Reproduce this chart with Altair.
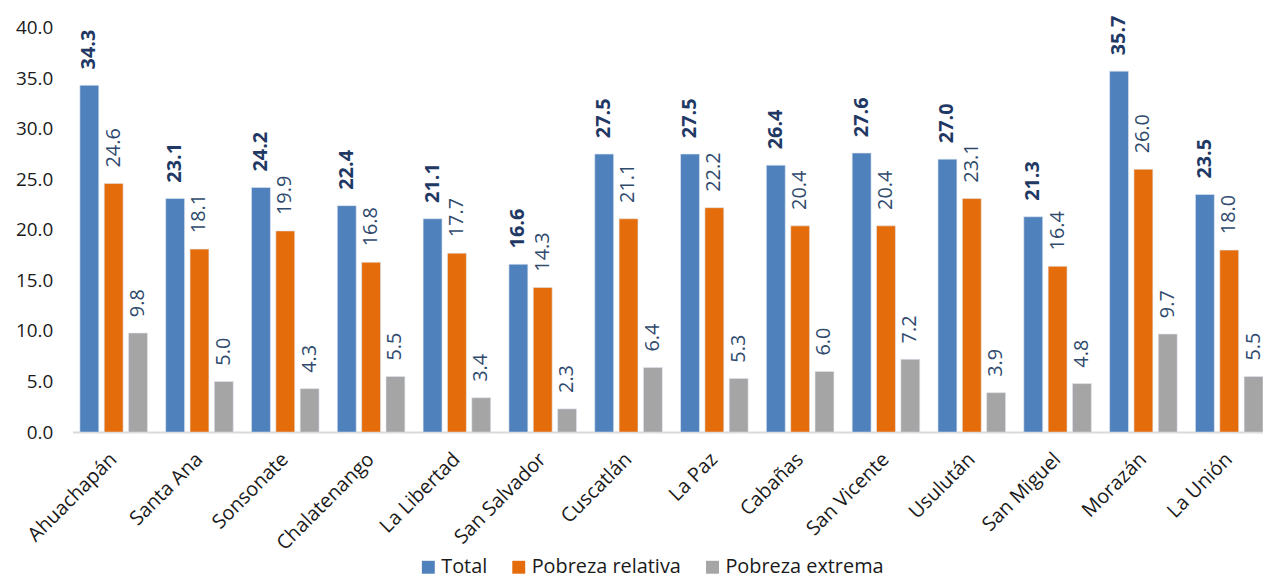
import altair as alt
import pandas as pd

departamentos = ["Ahuachapán", "Santa Ana", "Sonsonate", "Chalatenango", "La Libertad",
                 "San Salvador", "Cuscatlán", "La Paz", "Cabañas", "San Vicente",
                 "Usulután", "San Miguel", "Morazán", "La Unión"]
series = ["Total", "Pobreza relativa", "Pobreza extrema"]
total = [34.3, 23.1, 24.2, 22.4, 21.1, 16.6, 27.5, 27.5, 26.4, 27.6, 27.0, 21.3, 35.7, 23.5]
relativa = [24.6, 18.1, 19.9, 16.8, 17.7, 14.3, 21.1, 22.2, 20.4, 20.4, 23.1, 16.4, 26.0, 18.0]
extrema = [9.8, 5.0, 4.3, 5.5, 3.4, 2.3, 6.4, 5.3, 6.0, 7.2, 3.9, 4.8, 9.7, 5.5]
colores = ["#4f81bd", "#e46c0a", "#a5a5a5"]
y_ticks = [0, 5, 10, 15, 20, 25, 30, 35, 40]

rows = []
for i, d in enumerate(departamentos):
    for s, vals in zip(series, [total, relativa, extrema]):
        rows.append({"dep": d, "serie": s, "valor": vals[i]})
df = pd.DataFrame(rows)

FONT = "Open Sans"

x_enc = alt.X("dep:N", sort=departamentos, title=None,
              scale=alt.Scale(paddingInner=0.2126, paddingOuter=0.0425, align=1,
                              round=False),
              axis=alt.Axis(labelAngle=-45, labelAlign="right", labelBaseline="middle",
                            labelFontSize=20, labelColor="#1a1a1a", labelFont=FONT,
                            ticks=False, domainColor="#d9d9d9", domainWidth=2,
                            labelPadding=24))
xo_enc = alt.XOffset("serie:N", sort=series,
                     scale=alt.Scale(paddingInner=0.224, paddingOuter=0, round=False))
y_enc = alt.Y("valor:Q", title=None,
              scale=alt.Scale(domain=[0, 40], nice=False),
              axis=alt.Axis(values=y_ticks, format=".1f", grid=False, domain=False,
                            ticks=False, labelFontSize=19, labelColor="#1a1a1a",
                            labelFont=FONT, labelPadding=20))

base = alt.Chart(df).encode(x=x_enc, xOffset=xo_enc, y=y_enc)

bars = base.mark_bar(stroke="#dfe6ef", strokeWidth=0.6).encode(
    color=alt.Color("serie:N", sort=series,
                    scale=alt.Scale(domain=series, range=colores),
                    legend=alt.Legend(title=None, orient="none", direction="horizontal",
                                      legendX=348, legendY=533, symbolType="square",
                                      symbolSize=169, symbolStrokeWidth=0,
                                      labelFontSize=20, labelFont=FONT,
                                      labelColor="#1a1a1a", columnPadding=21,
                                      labelOffset=3))
)

labels_total = base.transform_filter(alt.datum.serie == "Total").mark_text(
    angle=270, align="left", baseline="middle", dx=16, fontSize=20,
    fontWeight="bold", font=FONT, color="#1f3864"
).encode(text=alt.Text("valor:Q", format=".1f"))

labels_other = base.transform_filter(alt.datum.serie != "Total").mark_text(
    angle=270, align="left", baseline="middle", dx=16, fontSize=20,
    font=FONT, color="#2f4a6d"
).encode(text=alt.Text("valor:Q", format=".1f"))

chart = alt.layer(bars, labels_total, labels_other).properties(
    width=1198, height=407,
    autosize=alt.AutoSizeParams(type="none"),
    padding={"left": 65, "top": 18, "right": 0, "bottom": 145},
).configure_view(stroke=None)

chart.save("out.html", embed_options={"renderer": "svg", "actions": False})
